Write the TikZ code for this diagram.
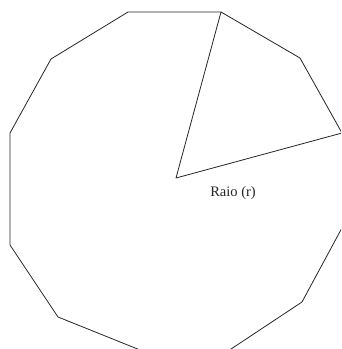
\documentclass[tikz,border=0pt]{standalone}
\usepackage{fontspec}
\setmainfont{Liberation Serif}
\begin{document}
\begin{tikzpicture}[x=1pt,y=-1pt,
  edge/.style={draw=black!85,line width=0.8pt,line join=round},
  lbl/.style={font=\fontsize{14.5}{16}\selectfont,text=black!85,inner sep=0pt}]
\useasboundingbox (0,0) rectangle (341,349);
\clip (0,0) rectangle (341,349);
\fill[white] (0,0) rectangle (341,349);
\coordinate (v1) at (128,12);
\coordinate (v2) at (221,12);
\coordinate (v3) at (300,58);
\coordinate (v4) at (342,133);
\coordinate (v5) at (343,226);
\coordinate (v6) at (302,302);
\coordinate (v7) at (222,355);
\coordinate (v8) at (160,358);
\coordinate (v9) at (58,317);
\coordinate (v10) at (10,245);
\coordinate (v11) at (10,133);
\coordinate (v12) at (51,59);
\coordinate (c) at (176,178);
\draw[edge] (v1)--(v2)--(v3)--(v4)--(v5)--(v6)--(v7)--(v8)--(v9)--(v10)--(v11)--(v12)--cycle;
\draw[edge] (v2)--(c)--(v4);
\node[lbl] (t) at (233,193) {Raio (r)};
\end{tikzpicture}
\end{document}
